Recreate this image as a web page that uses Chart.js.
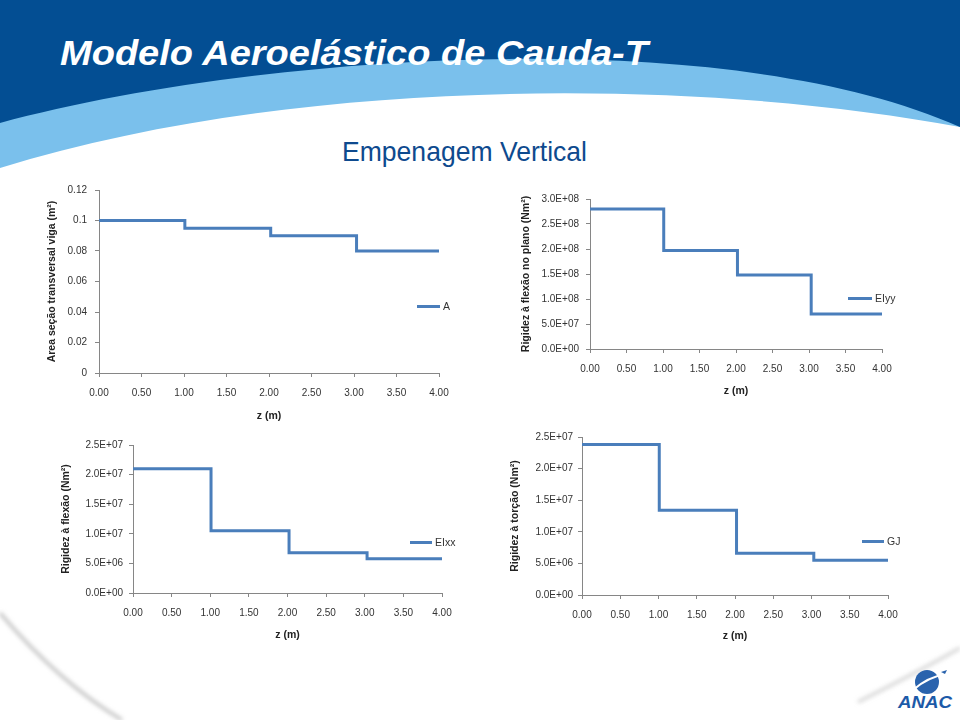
<!DOCTYPE html>
<html>
<head>
<meta charset="utf-8">
<script src="https://cdn.jsdelivr.net/npm/chart.js@4/dist/chart.umd.min.js"></script>
<style>
  body { margin: 0; width: 960px; height: 720px; overflow: hidden; background: #fff; position: relative; font-family: "Liberation Sans", Arial, sans-serif; }
  svg.bg { position: absolute; left: 0; top: 0; }
  canvas { position: absolute; }
  .legend { position: absolute; display: flex; align-items: center; font: 10.5px "Liberation Sans", Arial, sans-serif; color: #333; }
  .legend i { display: inline-block; height: 3px; background: #4a7ebb; margin-right: 3px; }
</style>
</head>
<body>
<svg class="bg" width="960" height="720">
  <defs>
    <filter id="blur"><feGaussianBlur stdDeviation="2"/></filter>
  </defs>
  <path d="M0,0 H960 V127 C700,78 300,75 0,168 Z" fill="#7ac0ec"/>
  <path d="M0,0 H960 V127 C720,20 250,55 0,123 Z" fill="#034e93"/>
  <text x="60" y="65" fill="#fff" font-family="Liberation Sans, Arial" font-weight="bold" font-style="italic" font-size="35" textLength="588" lengthAdjust="spacingAndGlyphs">Modelo Aeroelástico de Cauda-T</text>
  <text x="342" y="161" fill="#0e4a8e" font-family="Liberation Sans, Arial" font-size="28" textLength="245" lengthAdjust="spacingAndGlyphs">Empenagem Vertical</text>
  <path d="M0,613 C40,660 80,695 122,720" fill="none" stroke="#bdbdbd" stroke-width="3" filter="url(#blur)"/>
  <path d="M960,648 C925,668 890,686 858,702" fill="none" stroke="#d0d0d0" stroke-width="3" filter="url(#blur)"/>
  <circle cx="927" cy="682" r="12" fill="#2a63ad"/>
  <path d="M913,690 C922,682 934,676 946,674" fill="none" stroke="#fff" stroke-width="2"/>
  <path d="M941,672 l6,-2 l-2,4 z" fill="#2a63ad"/>
  <text x="898" y="708" fill="#1c5aa8" font-family="Liberation Sans, Arial" font-weight="bold" font-style="italic" font-size="16" textLength="54" lengthAdjust="spacingAndGlyphs">ANAC</text>
</svg>

<canvas id="cA" width="440" height="255" style="left:30px;top:175px"></canvas>
<canvas id="cYY" width="420" height="215" style="left:505px;top:185px"></canvas>
<canvas id="cXX" width="420" height="215" style="left:50px;top:430px"></canvas>
<canvas id="cGJ" width="420" height="220" style="left:500px;top:425px"></canvas>

<div class="legend" style="left:417px;top:300px"><i style="width:23px"></i>A</div>
<div class="legend" style="left:848px;top:292px"><i style="width:24px"></i>EIyy</div>
<div class="legend" style="left:410px;top:536px"><i style="width:22px"></i>EIxx</div>
<div class="legend" style="left:862px;top:535px"><i style="width:22px"></i>GJ</div>

<script>
// posições ao longo da empenagem (m)
const zSteps = [0, 1.01, 2.02, 3.03, 4.0];

// propriedades por trecho (último valor repete o trecho final)
const areaA = [0.1, 0.095, 0.09, 0.08, 0.08];
const eiyy = [2.8e8, 1.97e8, 1.48e8, 7.0e7, 7.0e7];
const eixx = [2.1e7, 1.05e7, 6.8e6, 5.8e6, 5.8e6];
const gj = [2.38e7, 1.34e7, 6.6e6, 5.5e6, 5.5e6];

const lineColor = "#4a7ebb";
const axisColor = "#868686";
const fontFamily = "Liberation Sans, Arial, sans-serif";

function sciLabel(v) {
  // formato do Excel: 3.0E+08
  const [m, e] = v.toExponential(1).split("e");
  const exp = parseInt(e, 10);
  const sign = exp < 0 ? "-" : "+";
  return m + "E" + sign + String(Math.abs(exp)).padStart(2, "0");
}

function generalLabel(v) {
  return String(Math.round(v * 1000) / 1000);
}

function makeChart(id, opts) {
  const ctx = document.getElementById(id).getContext("2d");
  return new Chart(ctx, {
    type: "line",
    data: {
      datasets: [
        {
          label: opts.label,
          data: zSteps.map((z, i) => ({ x: z, y: opts.values[i] })),
          borderColor: lineColor,
          borderWidth: 3,
          stepped: "before",
          pointRadius: 0,
          fill: false,
        },
      ],
    },
    options: {
      responsive: false,
      animation: false,
      devicePixelRatio: 1,
      layout: { padding: opts.padding },
      plugins: { legend: { display: false }, tooltip: { enabled: false } },
      scales: {
        x: {
          type: "linear",
          min: 0,
          max: 4,
          ticks: {
            stepSize: 0.5,
            autoSkip: false,
            maxRotation: 0,
            padding: 10,
            color: "#333",
            font: { family: fontFamily, size: 10 },
            callback: (v) => v.toFixed(2),
          },
          grid: { drawOnChartArea: false, drawTicks: true, tickLength: 4, color: axisColor },
          border: { display: true, color: axisColor },
          title: {
            display: true,
            text: "z (m)",
            color: "#222",
            font: { family: fontFamily, size: 10.5, weight: "bold" },
            padding: { top: 0, bottom: opts.xTitlePad },
          },
          afterFit: (s) => { s.height = opts.xHeight; },
        },
        y: {
          min: 0,
          max: opts.yMax,
          ticks: {
            stepSize: opts.yStep,
            padding: opts.yTickPad,
            color: "#333",
            font: { family: fontFamily, size: 10 },
            callback: opts.yFmt,
          },
          grid: { drawOnChartArea: false, drawTicks: true, tickLength: 4, color: axisColor },
          border: { display: true, color: axisColor },
          title: {
            display: true,
            text: opts.yTitle,
            color: "#222",
            font: { family: fontFamily, size: 10.5, weight: "bold" },
            padding: { top: opts.yTitlePad, bottom: 0 },
          },
          afterFit: (s) => { s.width = opts.yWidth; },
        },
      },
    },
  });
}

makeChart("cA", {
  label: "A",
  values: areaA,
  yMax: 0.12,
  yStep: 0.02,
  yFmt: generalLabel,
  yTitle: "Area seção transversal viga (m²)",
  padding: { left: 0, top: 15, right: 31, bottom: 0 },
  yWidth: 69,
  xHeight: 57,
  yTickPad: 8,
  yTitlePad: 16,
  xTitlePad: 8,
});

makeChart("cYY", {
  label: "EIyy",
  values: eiyy,
  yMax: 3.0e8,
  yStep: 5.0e7,
  yFmt: sciLabel,
  yTitle: "Rigidez à flexão no plano (Nm²)",
  padding: { left: 0, top: 14, right: 43, bottom: 0 },
  yWidth: 85,
  xHeight: 51,
  yTickPad: 7,
  yTitlePad: 15,
  xTitlePad: 3,
});

makeChart("cXX", {
  label: "EIxx",
  values: eixx,
  yMax: 2.5e7,
  yStep: 5.0e6,
  yFmt: sciLabel,
  yTitle: "Rigidez à flexão (Nm²)",
  padding: { left: 0, top: 15, right: 28, bottom: 0 },
  yWidth: 83,
  xHeight: 52,
  yTickPad: 6,
  yTitlePad: 10,
  xTitlePad: 4,
});

makeChart("cGJ", {
  label: "GJ",
  values: gj,
  yMax: 2.5e7,
  yStep: 5.0e6,
  yFmt: sciLabel,
  yTitle: "Rigidez à torção (Nm²)",
  padding: { left: 0, top: 12, right: 32, bottom: 0 },
  yWidth: 82,
  xHeight: 50,
  yTickPad: 5,
  yTitlePad: 9,
  xTitlePad: 3,
});
</script>
</body>
</html>
